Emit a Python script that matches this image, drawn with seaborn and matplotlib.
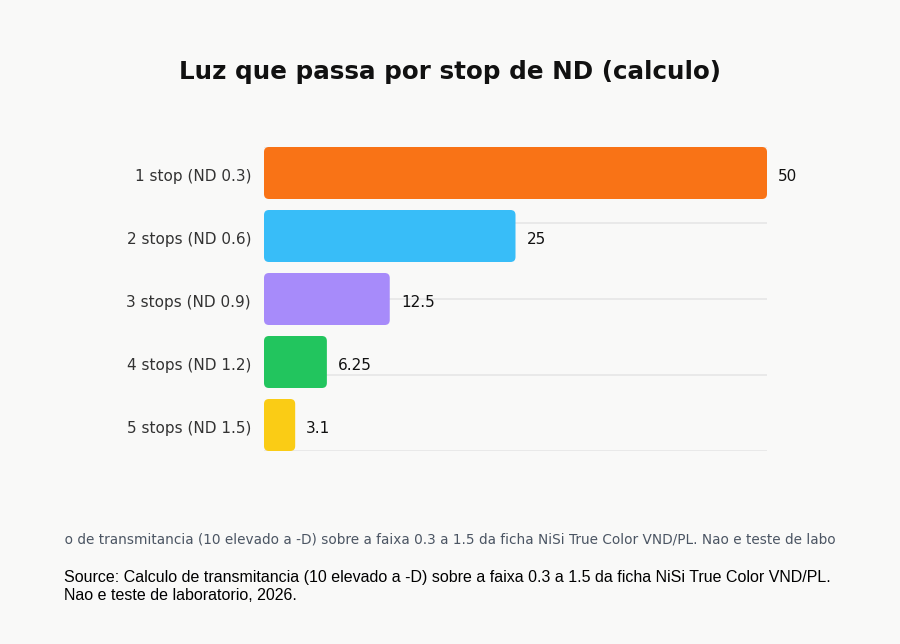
import numpy as np
import pandas as pd
import matplotlib
matplotlib.use("Agg")
import matplotlib.pyplot as plt
import seaborn as sns
from matplotlib.patches import FancyBboxPatch, Rectangle

categories = ["1 stop (ND 0.3)", "2 stops (ND 0.6)", "3 stops (ND 0.9)",
              "4 stops (ND 1.2)", "5 stops (ND 1.5)"]
values = [50, 25, 12.5, 6.25, 3.1]
value_labels = ["50", "25", "12.5", "6.25", "3.1"]
colors = ["#f97316", "#38bdf8", "#a78bfa", "#22c55e", "#facc15"]
title = "Luz que passa por stop de ND (calculo)"
source = ("Source: Calculo de transmitancia (10 elevado a -D) sobre a faixa 0.3 a 1.5 "
          "da ficha NiSi True Color VND/PL. Nao e teste de laboratorio, 2026.")
source_wrapped = ("Source: Calculo de transmitancia (10 elevado a -D) sobre a faixa 0.3 a 1.5 "
                  "da ficha NiSi True Color VND/PL.\nNao e teste de laboratorio, 2026.")

sns.set_theme(style="white")
plt.rcParams['font.family'] = ['DejaVu Sans']
bg = "#f9f9f8"

fig = plt.figure(figsize=(9, 6.44), dpi=100, facecolor=bg)
ax = fig.add_axes([264/900, 1-451/644, (767-264)/900, (451-147)/644])
ax.set_facecolor(bg)

df = pd.DataFrame({"cat": categories, "val": values})
bw = 52/63
sns.barplot(data=df, y="cat", x="val", hue="cat", palette=colors, legend=False,
            orient="h", width=bw, ax=ax, saturation=1)

ax.set_xlim(0, 50)
ylo, yhi = 4 + bw/2, -bw/2
ax.set_ylim(ylo, yhi)

# gridlines evenly spanning the axis range
for g in np.linspace(yhi, ylo, 5):
    ax.axhline(g, color="#e6e6e6", lw=1.2, zorder=0)

# rounded bars
xr = 5/10.06
yr = 5/63
for p in list(ax.patches):
    x0, y0 = p.get_x(), p.get_y()
    w, h = p.get_width(), p.get_height()
    fc = p.get_facecolor()
    p.remove()
    fb = FancyBboxPatch((x0, y0), w, h,
                        boxstyle=f"round,pad=0,rounding_size={xr}",
                        mutation_aspect=yr/xr, facecolor=fc, edgecolor="none",
                        zorder=2, clip_on=False)
    ax.add_patch(fb)

for i, (v, lab) in enumerate(zip(values, value_labels)):
    ax.annotate(lab, xy=(v, i), xytext=(8, -1.3), textcoords="offset points",
                va="center_baseline", ha="left", fontsize=11, color="#111111")

# category labels
for i, c in enumerate(categories):
    ax.annotate(c, xy=(0, i), xytext=(-9.3, -1.4), textcoords="offset points",
                va="center_baseline", ha="right", fontsize=11, color="#333333",
                annotation_clip=False)

ax.set_xlabel("")
ax.set_ylabel("")
ax.set_xticks([])
ax.set_yticks(range(len(categories)))
ax.set_yticklabels([])
ax.tick_params(axis="y", length=0)
for s in ax.spines.values():
    s.set_visible(False)

fig.text(0.5, 1-72/644, title, ha="center", va="center", fontsize=17.75,
         fontweight="bold", color="#111111")

t = fig.text(0.5 - 2/900, 1-540.5/644, source, ha="center", va="center", fontsize=9.85,
             color="#4b5563")
clip = Rectangle((64/900, 0), (836-64)/900, 1, transform=fig.transFigure,
                 facecolor="none", edgecolor="none")
t.set_clip_path(clip)

fig.text(64/900, 1-570/644, source_wrapped, ha="left", va="top", fontsize=11.5,
         family="Liberation Sans", color="#000000", linespacing=1.25)

fig.savefig("out.png", dpi=100, facecolor=bg)
